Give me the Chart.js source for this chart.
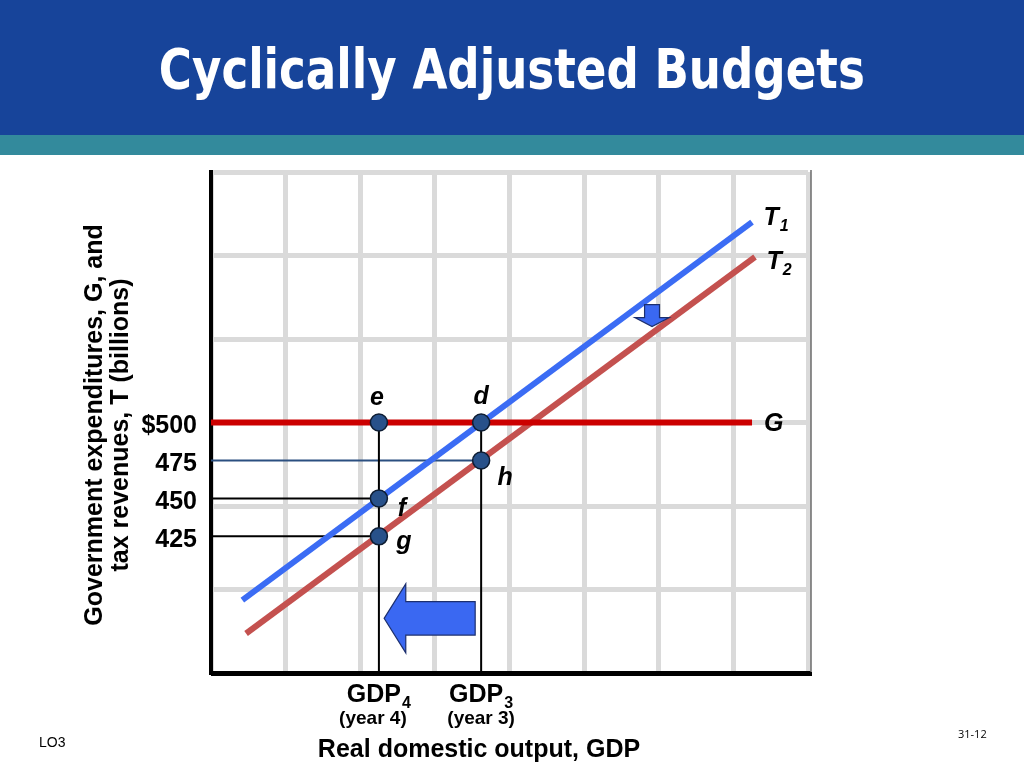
<!DOCTYPE html>
<html>
<head>
<meta charset="utf-8">
<script src="https://cdn.jsdelivr.net/npm/chart.js@4.4.1/dist/chart.umd.min.js"></script>
<style>
  html, body { margin: 0; padding: 0; background: #fff; }
  #wrap { position: relative; width: 1024px; height: 768px; overflow: hidden; }
  #header { position: absolute; left: 0; top: 0; width: 1024px; height: 135px; background: #17449a; }
  #stripe { position: absolute; left: 0; top: 135px; width: 1024px; height: 20px; background: #338a9c; }
  #title { position: absolute; left: 0; top: 39px; width: 1024px; text-align: center; line-height: 60px;
           color: #fff; font-family: "DejaVu Sans Condensed", "DejaVu Sans"; font-weight: bold; font-size: 56px; white-space: nowrap; }
  #title span { display: inline-block; transform-origin: center; }
  canvas { position: absolute; left: 0; top: 0; }
</style>
</head>
<body>
<div id="wrap">
  <div id="header"></div>
  <div id="stripe"></div>
  <div id="title"><span id="titleText">Cyclically Adjusted Budgets</span></div>
  <canvas id="chart" width="1024" height="768"></canvas>
</div>
<script>
// squeeze the title to the slide's width
const titleSpan = document.getElementById('titleText');
titleSpan.style.transform = 'scaleX(' + (706 / titleSpan.getBoundingClientRect().width) + ')';

// values ($ billions) marked on the vertical axis
const valueTicks = [425, 450, 475, 500];
const valueTickLabels = ['425', '450', '475', '$500'];

// output levels (grid units along the GDP axis)
const gdpLevels = [2.25, 3.62];
const gdpSubs = ['4', '3'];
const gdpYears = ['(year 4)', '(year 3)'];

// tax lines T1, T2 and spending line G
const taxT1 = [{ x: 0.42, y: 383 }, { x: 7.25, y: 632 }];
const taxT2 = [{ x: 0.47, y: 361 }, { x: 7.29, y: 609 }];
const spendG = [{ x: 0, y: 500 }, { x: 7.25, y: 500 }];

// labelled points
const pointNames = ['e', 'd', 'f', 'g', 'h'];
const pointX = [2.25, 3.62, 2.25, 2.25, 3.62];
const pointY = [500, 500, 450, 425, 475];

// arrows (data units)
const shiftDownArrow = { x: 5.91, top: 577.6, neck: 569.1, tip: 563.2, shaft: 0.1, head: 0.23 };
const shiftLeftArrow = { y: 371, tip: 2.32, neck: 2.61, tail: 3.54, body: 11, head: 22.7 };

const yMin = 335, yMax = 665, yStep = 55;

const points = pointX.map((x, i) => ({ x: x, y: pointY[i] }));
const guide = (pts, color) => ({
  data: pts, showLine: true, borderColor: color, borderWidth: 2,
  pointRadius: 0, order: 5
});

const labelOffsets = {
  e: [-2, -24], d: [0, -25], f: [23, 11], g: [25, 6], h: [24, 18]
};

function subText(ctx, main, sub, cx, base, mainFont, subFont, subDrop) {
  ctx.font = mainFont;
  const w1 = ctx.measureText(main).width;
  ctx.font = subFont;
  const w2 = ctx.measureText(sub).width;
  const left = cx - (w1 + w2 + 1) / 2;
  ctx.textAlign = 'left';
  ctx.textBaseline = 'alphabetic';
  ctx.font = mainFont;
  ctx.fillText(main, left, base);
  ctx.font = subFont;
  ctx.fillText(sub, left + w1 + 1, base + subDrop);
}

const annotate = {
  id: 'annotate',
  afterDraw(chart) {
    const { ctx, chartArea: a } = chart;
    const x = chart.scales.x, y = chart.scales.y;
    ctx.save();

    // right frame shadow line
    ctx.strokeStyle = '#6b6b6b';
    ctx.lineWidth = 1.5;
    ctx.beginPath();
    ctx.moveTo(a.right + 3, a.top - 2);
    ctx.lineTo(a.right + 3, a.bottom + 2);
    ctx.stroke();
    ctx.strokeStyle = '#000';
    ctx.lineWidth = 4;
    ctx.beginPath();
    ctx.moveTo(a.left, a.bottom + 1);
    ctx.lineTo(a.right + 4, a.bottom + 1);
    ctx.stroke();

    // arrows
    ctx.fillStyle = '#3a68f2';
    ctx.strokeStyle = '#1c2f6e';
    ctx.lineWidth = 1.2;
    const L = shiftLeftArrow;
    ctx.beginPath();
    ctx.moveTo(x.getPixelForValue(L.tip), y.getPixelForValue(L.y));
    ctx.lineTo(x.getPixelForValue(L.neck), y.getPixelForValue(L.y + L.head));
    ctx.lineTo(x.getPixelForValue(L.neck), y.getPixelForValue(L.y + L.body));
    ctx.lineTo(x.getPixelForValue(L.tail), y.getPixelForValue(L.y + L.body));
    ctx.lineTo(x.getPixelForValue(L.tail), y.getPixelForValue(L.y - L.body));
    ctx.lineTo(x.getPixelForValue(L.neck), y.getPixelForValue(L.y - L.body));
    ctx.lineTo(x.getPixelForValue(L.neck), y.getPixelForValue(L.y - L.head));
    ctx.closePath();
    ctx.fill();
    ctx.stroke();
    const D = shiftDownArrow;
    ctx.beginPath();
    ctx.moveTo(x.getPixelForValue(D.x - D.shaft), y.getPixelForValue(D.top));
    ctx.lineTo(x.getPixelForValue(D.x + D.shaft), y.getPixelForValue(D.top));
    ctx.lineTo(x.getPixelForValue(D.x + D.shaft), y.getPixelForValue(D.neck));
    ctx.lineTo(x.getPixelForValue(D.x + D.head), y.getPixelForValue(D.neck));
    ctx.lineTo(x.getPixelForValue(D.x), y.getPixelForValue(D.tip));
    ctx.lineTo(x.getPixelForValue(D.x - D.head), y.getPixelForValue(D.neck));
    ctx.lineTo(x.getPixelForValue(D.x - D.shaft), y.getPixelForValue(D.neck));
    ctx.closePath();
    ctx.fill();
    ctx.stroke();

    ctx.fillStyle = '#000';
    const italic = 'italic bold 25px "Liberation Sans", Arial';

    // point letters
    ctx.font = italic;
    ctx.textAlign = 'center';
    ctx.textBaseline = 'middle';
    pointNames.forEach((n, i) => {
      const o = labelOffsets[n];
      ctx.fillText(n, x.getPixelForValue(pointX[i]) + o[0], y.getPixelForValue(pointY[i]) + o[1]);
    });

    // line names
    const t1 = taxT1[1], t2 = taxT2[1], g = spendG[1];
    subText(ctx, 'T', '1', x.getPixelForValue(t1.x) + 24, y.getPixelForValue(t1.y) + 3,
      italic, 'italic bold 16px "Liberation Sans", Arial', 6);
    subText(ctx, 'T', '2', x.getPixelForValue(t2.x) + 24, y.getPixelForValue(t2.y) + 12,
      italic, 'italic bold 16px "Liberation Sans", Arial', 6);
    ctx.font = italic;
    ctx.textAlign = 'left';
    ctx.textBaseline = 'middle';
    ctx.fillText('G', x.getPixelForValue(g.x) + 12, y.getPixelForValue(g.y) + 2);

    // output level labels
    gdpLevels.forEach((v, i) => {
      const px = x.getPixelForValue(v);
      subText(ctx, 'GDP', gdpSubs[i], px, a.bottom + 29,
        'bold 25px "Liberation Sans", Arial', 'bold 16px "Liberation Sans", Arial', 6);
      ctx.font = 'bold 19px "Liberation Sans", Arial';
      ctx.textAlign = 'center';
      ctx.textBaseline = 'alphabetic';
      ctx.fillText(gdpYears[i], px - (i === 0 ? 6 : 0), a.bottom + 51);
    });

    // axis titles
    ctx.font = 'bold 25px "Liberation Sans", Arial';
    ctx.textAlign = 'center';
    ctx.textBaseline = 'alphabetic';
    ctx.fillText('Real domestic output, GDP', 479, a.bottom + 84);
    ctx.save();
    ctx.translate(102, 425);
    ctx.rotate(-Math.PI / 2);
    ctx.fillText('Government expenditures, G, and', 0, 0);
    ctx.fillText('tax revenues, T (billions)', 0, 26);
    ctx.restore();

    // slide footer
    ctx.font = '14px "Liberation Sans", Arial';
    ctx.textAlign = 'left';
    ctx.textBaseline = 'middle';
    ctx.fillText('LO3', 39, 743);
    ctx.font = '11px "Open Sans", "Liberation Sans"';
    ctx.fillText('31-12', 958, 735);
    ctx.restore();
  }
};

new Chart(document.getElementById('chart'), {
  type: 'scatter',
  data: {
    datasets: [
      {
        data: points, pointRadius: 8.5, pointHoverRadius: 8.5,
        backgroundColor: '#28518a', borderColor: '#0e1d33', borderWidth: 1.5, order: 0
      },
      guide([points[0], { x: pointX[0], y: yMin }], '#000'),
      guide([points[1], { x: pointX[1], y: yMin }], '#000'),
      guide([{ x: 0, y: pointY[4] }, points[4]], '#2b4f80'),
      guide([{ x: 0, y: pointY[2] }, points[2]], '#000'),
      guide([{ x: 0, y: pointY[3] }, points[3]], '#000'),
      { data: taxT1, showLine: true, borderColor: '#3b6cf4', borderWidth: 6, pointRadius: 0, order: 2 },
      { data: spendG, showLine: true, borderColor: '#cc0000', borderWidth: 6, pointRadius: 0, order: 3 },
      { data: taxT2, showLine: true, borderColor: '#c4514f', borderWidth: 6, pointRadius: 0, order: 4 }
    ]
  },
  options: {
    responsive: false,
    animation: false,
    events: [],
    layout: { padding: { left: 0, top: 172, right: 216, bottom: 95 } },
    plugins: { legend: { display: false }, tooltip: { enabled: false } },
    scales: {
      x: {
        type: 'linear', min: 0, max: 8,
        ticks: { display: false, stepSize: 1 },
        grid: { color: '#dadada', lineWidth: 5, drawTicks: false },
        border: { color: '#000', width: 4 },
        afterFit: s => { s.height = 0; }
      },
      // value axis: labelled ticks and the black axis line
      y: {
        type: 'linear', position: 'left', min: yMin, max: yMax,
        afterBuildTicks: s => { s.ticks = valueTicks.map(v => ({ value: v })); },
        ticks: {
          color: '#000', padding: 14, labelOffset: 4,
          font: { family: '"Liberation Sans", Arial', size: 25, weight: 'bold' },
          callback: v => valueTickLabels[valueTicks.indexOf(v)]
        },
        grid: { display: false, drawTicks: false },
        border: { color: '#000', width: 4 },
        afterFit: s => { s.width = 211; }
      },
      // background grid
      yGrid: {
        type: 'linear', axis: 'y', position: 'left', min: yMin, max: yMax,
        ticks: { display: false, stepSize: yStep },
        grid: { color: '#dadada', lineWidth: 5, drawTicks: false },
        border: { display: false },
        afterFit: s => { s.width = 0; }
      }
    }
  },
  plugins: [annotate]
});
</script>
</body>
</html>
